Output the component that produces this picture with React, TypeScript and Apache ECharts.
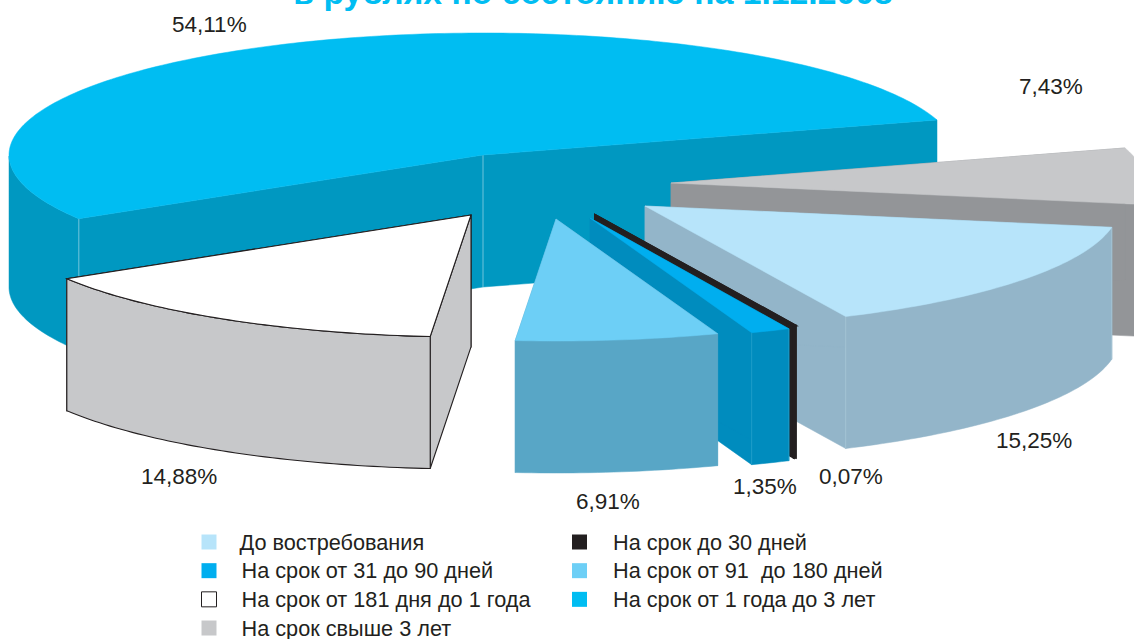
import React, { useEffect, useRef } from "react";
import * as echarts from "echarts";

const names = [
  "На срок от 1 года до 3 лет",
  "На срок от 181 дня до 1 года",
  "На срок от 91  до 180 дней",
  "На срок от 31 до 90 дней",
  "На срок до 30 дней",
  "До востребования",
  "На срок свыше 3 лет",
];
const values = [54.11, 14.88, 6.91, 1.35, 0.07, 15.25, 7.43];
const titleText = "в рублях по состоянию на 1.12.2008";
const legendLeft = [names[5], names[3], names[1], names[6]];
const legendRight = [names[4], names[2], names[0]];

// Styling and layout, separate from the values
const topColors = ["#00BDF2", "#FFFFFF", "#6DCFF6", "#00AEEF", "#231F20", "#B7E4FA", "#C7C8CA"];
const wallColors = ["#0098C1", "#C7C8CA", "#58A6C6", "#008CBE", "#231F20", "#93B5C9", "#939598"];
const strokes = [null, "#231F20", null, null, "#231F20", null, null];
const edgeColors = ["#6FC3DB", null, null, "#1C9CC9", null, "#A3C3D4", null];
const apexes = [[483, 155], [471, 215], [556, 219], [590, 218], [595, 215], [645, 206], [671, 183]];
const labelPos = [[172, 24], [141, 476], [576, 501], [733, 486], [819, 476], [996, 440], [1019, 86]];
const drawOrder = [0, 6, 5, 4, 3, 2, 1];
const RX = 474, RY = 122, DEPTH = 132, START_DEG = 16.7;
const legendColors: Record<string, any> = { [names[1]]: { color: "#fff", borderColor: "#231F20", borderWidth: 1 } };

const starts: number[] = [];
values.reduce((acc, v, i) => { starts[i] = acc; return acc + v * 3.6; }, START_DEG);

const rad = (d: number) => (d * Math.PI) / 180;

function makeRenderItem(i: number) {
  return (_params: any, api: any) => {
    const [ax, ay] = apexes[i];
    const t0 = starts[i];
    const t1 = t0 + api.value(0) * 3.6;
    const p = (t: number, dz = 0) => [ax + RX * Math.cos(rad(t)), ay - RY * Math.sin(rad(t)) + dz];
    const arc: number[] = [];
    const STEPS = Math.max(2, Math.ceil(t1 - t0));
    for (let k = 0; k <= STEPS; k++) arc.push(t0 + ((t1 - t0) * k) / STEPS);
    const stroke = strokes[i];
    const wallStyle = { fill: wallColors[i], stroke: stroke ?? wallColors[i], lineWidth: stroke ? (i === 4 ? 2 : 1.1) : 0.5 };
    const children: any[] = [];
    const wall = (t: number) => {
      const e = p(t), e2 = p(t, DEPTH);
      children.push({ type: "polygon", shape: { points: [[ax, ay], e, e2, [ax, ay + DEPTH]] }, style: wallStyle });
    };
    wall(t0);
    wall(t1);
    // outer curved wall: only the front half of the ellipse faces the viewer
    const front = arc.filter((t) => t >= 180 && t <= 360);
    if (front.length > 1) {
      const upper = front.map((t) => p(t));
      const lower = front.slice().reverse().map((t) => p(t, DEPTH));
      children.push({ type: "polygon", shape: { points: [...upper, ...lower] }, style: wallStyle });
    }
    const edge = edgeColors[i];
    if (edge) {
      const corners = [t0, t1].filter((t) => t > 180 && t < 360);
      corners.forEach((t) => {
        const a = p(t), b = p(t, DEPTH);
        children.push({ type: "line", shape: { x1: a[0], y1: a[1], x2: b[0], y2: b[1] }, style: { stroke: edge, lineWidth: 1 } });
      });
      if (i === 0) {
        children.push({ type: "line", shape: { x1: ax, y1: ay, x2: ax, y2: ay + DEPTH }, style: { stroke: edge, lineWidth: 1 } });
      }
    }
    children.push({
      type: "polygon",
      shape: { points: [[ax, ay], ...arc.map((t) => p(t))] },
      style: { fill: topColors[i], stroke: stroke ?? topColors[i], lineWidth: stroke ? (i === 4 ? 2 : 1.1) : 0.5 },
    });
    return { type: "group", children };
  };
}

const percentLabels = values.map((v) => v.toFixed(2).replace(".", ",") + "%");

export default function App() {
  const ref = useRef<HTMLDivElement>(null);
  useEffect(() => {
    document.body.style.margin = "0";
    const chart = echarts.init(ref.current!, null, { renderer: "svg" });
    const legendBase = {
      orient: "vertical",
      selectedMode: false,
      padding: 0,
      itemWidth: 15,
      itemHeight: 15,
      itemGap: 6.67,
      top: 531,
      height: 140,
    };
    const legendText = (pad: number) => ({
      fontFamily: "Liberation Sans", fontSize: 21.7, color: "#231F20", padding: [0, 0, 0, pad], lineHeight: 20,
    });
    const legendData = (list: string[], pad: number) =>
      list.map((n) => ({
        name: n,
        icon: "rect",
        itemStyle: legendColors[n] ?? { color: topColors[names.indexOf(n)] },
        textStyle: legendText(n === names[5] ? pad - 2 : pad),
      }));
    chart.setOption({
      animation: false,
      title: {
        text: titleText,
        left: 593,
        top: -25,
        padding: 0,
        textAlign: "center",
        textStyle: { fontFamily: "Liberation Sans", fontWeight: "bold", fontSize: 33.7, color: "#00BDF2" },
      },
      legend: [
        { ...legendBase, left: 201, textStyle: legendText(20), data: legendData(legendLeft, 20) },
        { ...legendBase, left: 572, textStyle: legendText(21), data: legendData(legendRight, 21) },
      ],
      graphic: percentLabels.map((text, i) => ({
        type: "text",
        x: labelPos[i][0],
        y: labelPos[i][1],
        style: { text, fontFamily: "Liberation Sans", fontSize: 22.5, fill: "#231F20", verticalAlign: "middle" },
      })),
      series: drawOrder.map((i) => ({
        type: "custom",
        name: names[i],
        coordinateSystem: "none",
        silent: true,
        itemStyle: { color: topColors[i] },
        renderItem: makeRenderItem(i),
        data: [[values[i]]],
      })),
    });
    return () => chart.dispose();
  }, []);
  return <div ref={ref} style={{ width: 1134, height: 639 }} />;
}
